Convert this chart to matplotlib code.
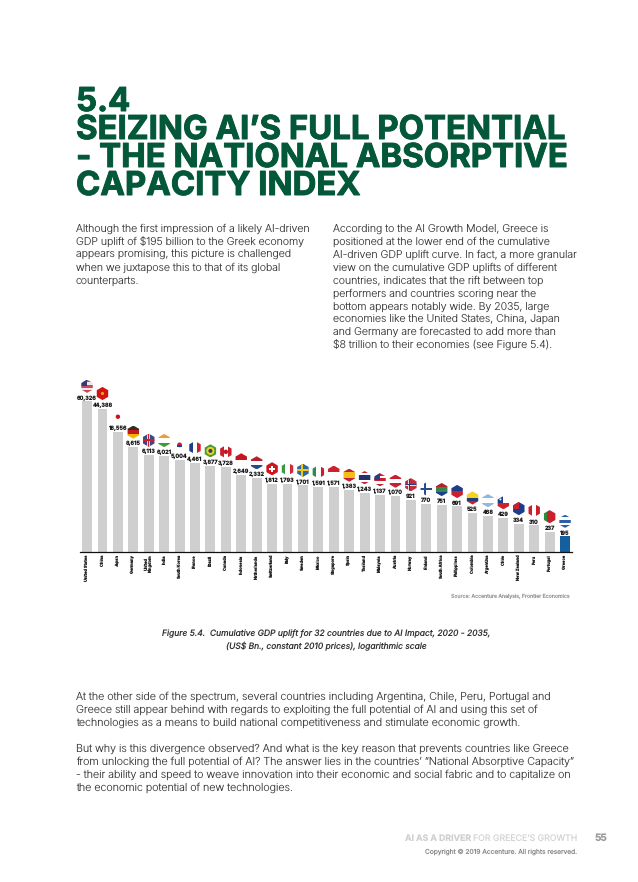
import matplotlib
matplotlib.use("Agg")
import matplotlib.pyplot as plt
import matplotlib.patheffects as pe
from matplotlib.patches import Polygon, Rectangle, Circle
import numpy as np

# ── data ──────────────────────────────────────────
countries = ["United States", "China", "Japan", "Germany", "United\nKingdom", "India", "South Korea",
             "France", "Brazil", "Canada", "Indonesia", "Netherlands", "Switzerland", "Italy", "Sweden",
             "Mexico", "Singapore", "Spain", "Thailand", "Malaysia", "Austria", "Norway", "Finland",
             "South Africa", "Philippines", "Colombia", "Argentina", "Chile", "New Zealand", "Peru",
             "Portugal", "Greece"]
uplift = [60326, 44388, 16556, 8615, 6113, 6021, 5004, 4461, 3877, 3728, 2649, 2332, 1812, 1793, 1701,
          1591, 1571, 1383, 1243, 1137, 1070, 921, 770, 751, 691, 525, 468, 429, 334, 310, 237, 195]

# (direction of stripes, stripe colours, small emblem)
flags = [
    ("h", ["#C9485B", "#F1E6E8", "#C9485B", "#F1E6E8", "#C9485B"], "canton_blue"),
    ("h", ["#D2140F"], "star"),
    ("h", ["#FFFFFF"], "disc_red"),
    ("h", ["#3A2A20", "#C4161C", "#F2B705"], None),
    ("h", ["#3B4A80"], "union"),
    ("h", ["#F29A38", "#FFFFFF", "#3F9A3A"], None),
    ("h", ["#FFFFFF"], "korea"),
    ("v", ["#1C3E8C", "#FFFFFF", "#D0202E"], None),
    ("h", ["#4E9A2E"], "brazil"),
    ("v", ["#C8202C", "#FFFFFF", "#C8202C"], "disc_red"),
    ("h", ["#C8141C", "#FFFFFF"], None),
    ("h", ["#B5202C", "#FFFFFF", "#1E4C8C"], None),
    ("h", ["#D0141E"], "swiss"),
    ("v", ["#3A9A44", "#FFFFFF", "#CF2B37"], None),
    ("h", ["#2C6AA0"], "nordic_yellow"),
    ("v", ["#2E8B4A", "#FFFFFF", "#C8202C"], None),
    ("h", ["#D0202E", "#FFFFFF"], None),
    ("h", ["#C8202C", "#F2BC1B", "#F2BC1B", "#C8202C"], None),
    ("h", ["#C8202C", "#FFFFFF", "#22346E", "#22346E", "#FFFFFF", "#C8202C"], None),
    ("h", ["#C8202C", "#FFFFFF", "#C8202C", "#FFFFFF", "#C8202C"], "canton_blue"),
    ("h", ["#C8202C", "#FFFFFF", "#C8202C"], None),
    ("h", ["#C22C3C"], "nordic_blue"),
    ("h", ["#FFFFFF"], "nordic_finland"),
    ("h", ["#B5202C", "#2E8B4A", "#1E3C8C"], None),
    ("h", ["#1E3C8C", "#C8202C"], None),
    ("h", ["#F6D21E", "#F6D21E", "#1E3C7C", "#C8202C"], None),
    ("h", ["#8FB8E0", "#FFFFFF", "#8FB8E0"], None),
    ("h", ["#FFFFFF", "#D0202E"], "canton_small"),
    ("h", ["#1E3C8C"], "canton_red"),
    ("v", ["#C8202C", "#FFFFFF", "#C8202C"], None),
    ("v", ["#2E8B3A", "#C8202C", "#C8202C"], None),
    ("h", ["#2C5FA8", "#FFFFFF", "#2C5FA8", "#FFFFFF", "#2C5FA8"], None),
]

title_lines = ["5.4", "SEIZING AI\u2019S FULL POTENTIAL", "- THE NATIONAL ABSORPTIVE", "CAPACITY INDEX"]
left_column = ["Although the first impression of a likely AI-driven",
               "GDP uplift of $195 billion to the Greek economy",
               "appears promising, this picture is challenged",
               "when we juxtapose this to that of its global",
               "counterparts."]
right_column = ["According to the AI Growth Model, Greece is",
                "positioned at the lower end of the cumulative",
                "AI-driven GDP uplift curve. In fact, a more granular",
                "view on the cumulative GDP uplifts of different",
                "countries, indicates that the rift between top",
                "performers and countries scoring near the",
                "bottom appears notably wide. By 2035, large",
                "economies like the United States, China, Japan",
                "and Germany are forecasted to add more than",
                "$8 trillion to their economies (see Figure 5.4)."]
lower_text = ["At the other side of the spectrum, several countries including Argentina, Chile, Peru, Portugal and",
              "Greece still appear behind with regards to exploiting the full potential of AI and using this set of",
              "technologies as a means to build national competitiveness and stimulate economic growth.",
              "",
              "But why is this divergence observed? And what is the key reason that prevents countries like Greece",
              "from unlocking the full potential of AI? The answer lies in the countries\u2019 \u201cNational Absorptive Capacity\u201d",
              "- their ability and speed to weave innovation into their economic and social fabric and to capitalize on",
              "the economic potential of new technologies."]
caption = ["Figure 5.4.  Cumulative GDP uplift for 32 countries due to AI Impact, 2020 - 2035,",
           "(US$ Bn., constant 2010 prices), logarithmic scale"]

GREEN = "#04583A"
BODY = "#3A3A3A"
BAR_GREY = "#CFCFCF"
GREECE_BLUE = "#14609F"

plt.rcParams["font.family"] = ["Inter", "DejaVu Sans"]
plt.rcParams["text.hinting"] = "no_hinting"

W, H = 638, 882
fig = plt.figure(figsize=(W / 100, H / 100), dpi=100, facecolor="white")

# page layer in pixel coordinates, everything that is not the chart goes here
page = fig.add_axes([0, 0, 1, 1], zorder=2)
page.set_xlim(0, W)
page.set_ylim(H, 0)
page.axis("off")

ax = fig.add_axes([79.5 / W, (H - 552) / H, 492.5 / W, 172 / H], zorder=1)
x = np.arange(len(countries))
colors = [BAR_GREY] * (len(countries) - 1) + [GREECE_BLUE]
ax.set_yscale("log")
ax.bar(x, uplift, width=0.64, color=colors, linewidth=0)
ax.set_xlim(-0.49, 31.45)
ax.set_ylim(100, 149000)
for side in ["top", "left", "right"]:
    ax.spines[side].set_visible(False)
ax.spines["bottom"].set_linewidth(0.9)
ax.spines["bottom"].set_color("#111111")
ax.yaxis.set_visible(False)
ax.set_xticks(x)
ax.set_xticklabels(countries, rotation=90, fontsize=2.9, ha="center", va="top", linespacing=1.0,
                   color="#222222", fontweight="bold")
ax.tick_params(axis="x", length=0, pad=2)
ax.patch.set_alpha(0)


def draw_flag(cx, cy, spec, r=6.6):
    direction, stripes, emblem = spec
    angles = np.radians(np.arange(6) * 60 + 90)
    hexagon = Polygon(np.c_[cx + r * np.cos(angles), cy + r * np.sin(angles)], closed=True,
                      facecolor="none", edgecolor="none", transform=page.transData)
    page.add_patch(hexagon)
    parts = []
    n = len(stripes)
    for i, c in enumerate(stripes):
        if direction == "h":
            parts.append(Rectangle((cx - r, cy - r + 2 * r * i / n), 2 * r, 2 * r / n, fc=c, lw=0))
        else:
            parts.append(Rectangle((cx - r + 2 * r * i / n, cy - r), 2 * r / n, 2 * r, fc=c, lw=0))
    if emblem == "canton_blue":
        parts.append(Rectangle((cx - r, cy - r), r, r, fc="#2C3E7C", lw=0))
    elif emblem == "canton_small":
        parts.append(Rectangle((cx - r, cy - r), r * 0.9, r, fc="#1E3C8C", lw=0))
        parts.append(Circle((cx - r * 0.45, cy - r * 0.5), 1.0, fc="white", lw=0))
    elif emblem == "canton_red":
        parts.append(Rectangle((cx - r, cy - r), r, r, fc="#C8202C", lw=0))
    elif emblem == "star":
        parts.append(Circle((cx, cy), 1.6, fc="#E8A020", lw=0))
    elif emblem == "disc_red":
        parts.append(Circle((cx, cy), 2.2, fc="#C8141C", lw=0))
    elif emblem == "korea":
        parts.append(Circle((cx, cy), 2.4, fc="#C8202C", lw=0))
        parts.append(Rectangle((cx - 2.4, cy), 4.8, 2.2, fc="#24409A", lw=0))
    elif emblem == "brazil":
        parts.append(Circle((cx, cy), 4.0, fc="#F2D21E", lw=0))
        parts.append(Circle((cx, cy), 2.0, fc="#2A3F80", lw=0))
    elif emblem == "swiss":
        parts.append(Rectangle((cx - 2.8, cy - 0.9), 5.6, 1.8, fc="white", lw=0))
        parts.append(Rectangle((cx - 0.9, cy - 2.8), 1.8, 5.6, fc="white", lw=0))
    elif emblem == "union":
        parts.append(Rectangle((cx - r, cy - 1.3), 2 * r, 2.6, fc="#E8D0D4", lw=0))
        parts.append(Rectangle((cx - 1.3, cy - r), 2.6, 2 * r, fc="#E8D0D4", lw=0))
        parts.append(Rectangle((cx - r, cy - 0.7), 2 * r, 1.4, fc="#C8202C", lw=0))
        parts.append(Rectangle((cx - 0.7, cy - r), 1.4, 2 * r, fc="#C8202C", lw=0))
    elif emblem in ("nordic_yellow", "nordic_blue", "nordic_finland"):
        cross = {"nordic_yellow": "#F0C81E", "nordic_blue": "#E8E0E4", "nordic_finland": "#2A4C8C"}[emblem]
        parts.append(Rectangle((cx - r, cy - 1), 2 * r, 2, fc=cross, lw=0))
        parts.append(Rectangle((cx - 2.4, cy - r), 2, 2 * r, fc=cross, lw=0))
        if emblem == "nordic_blue":
            parts.append(Rectangle((cx - r, cy - 0.5), 2 * r, 1, fc="#24407C", lw=0))
            parts.append(Rectangle((cx - 1.9, cy - r), 1, 2 * r, fc="#24407C", lw=0))
    for p in parts:
        page.add_patch(p)
        p.set_clip_path(hexagon)


# value labels and flags follow the bar tops through the chart's own scale
for i, value in enumerate(uplift):
    px, py = ax.transData.transform((x[i], value))
    py = H - py
    page.text(px, py - 3.4, f"{value:,}", fontsize=4.0, fontweight="bold", ha="center", va="center",
              color="#1A1A1A")
    draw_flag(px, py - 15, flags[i])

# title, stroked a little since the original face is heavier than Inter Bold
for y, line in zip([111, 139, 167, 195], title_lines):
    t = page.text(76, y, line, fontsize=23.7, fontweight="bold", color=GREEN, ha="left", va="baseline")
    t.set_path_effects([pe.withStroke(linewidth=0.7, foreground=GREEN)])

# body text
for i, line in enumerate(left_column):
    page.text(76, 229 + 13 * i, line, fontsize=7.6, fontweight="light", color=BODY, va="center")
for i, line in enumerate(right_column):
    page.text(333, 229 + 12.9 * i, line, fontsize=7.6, fontweight="light", color=BODY, va="center")
for i, line in enumerate(lower_text):
    page.text(76, 697 + 13 * i, line, fontsize=7.72, fontweight="light", color=BODY, va="center")

for y, line in zip([634, 646], caption):
    page.text(326, y, line, fontsize=6.1, style="italic", color="#333333", ha="center", va="center")

page.text(570, 596.5, "Source: Accenture Analysis, Frontier Economics", fontsize=3.75, color="#999999",
          ha="right", va="center")

# footer
page.text(471, 838, "AI AS A DRIVER", fontsize=6.3, fontweight="bold", color="#D0D0D0", ha="right", va="center")
page.text(577, 838, "FOR GREECE\u2019S GROWTH", fontsize=6.3, color="#D4D4D4", ha="right", va="center")
page.text(607, 838, "55", fontsize=7.2, fontweight="bold", color="#9A9A9A", ha="right", va="center")
page.text(577, 852, "Copyright \u00a9 2019 Accenture. All rights reserved.", fontsize=4.76, color="#8A8A8A",
          ha="right", va="center")

fig.savefig("out.png", dpi=100, facecolor="white")
plt.close(fig)
